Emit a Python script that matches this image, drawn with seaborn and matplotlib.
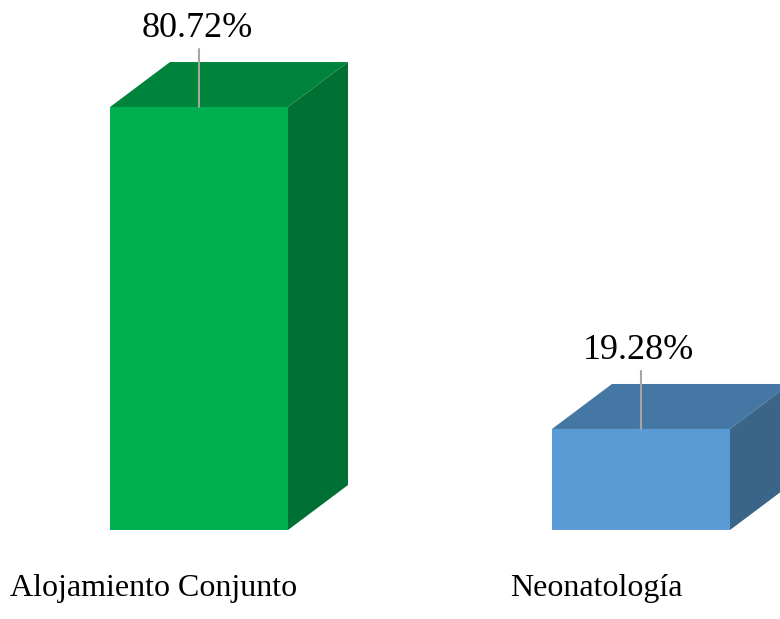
import matplotlib
matplotlib.use("Agg")
import matplotlib.pyplot as plt
from matplotlib.patches import Polygon
import seaborn as sns

categories = ["Alojamiento Conjunto", "Neonatología"]
values = [80.72, 19.28]
front_colors = ["#00B050", "#5B9BD5"]
top_colors = ["#00843C", "#4577A4"]
side_colors = ["#007033", "#3A6588"]

sns.set_theme(style="white")
plt.rcParams["font.family"] = ["Liberation Serif", "DejaVu Serif"]

W, H = 780, 619
fig = plt.figure(figsize=(W / 100, H / 100), dpi=100)
# axes: baseline 89 px above the bottom edge, value range 0-100
ax = fig.add_axes([0, 89 / H, 1, 524 / H])

sns.barplot(x=categories, y=values, hue=categories, palette=front_colors,
            width=0.4027, saturation=1, legend=False, ax=ax)

ax.set_xlim(-0.4502, 1.3145)
ax.set_ylim(0, 100)
ax.axis("off")

# depth of the 3D boxes in data units
px_x = 442.0              # pixels per category step
px_y = 524.0 / 100.0      # pixels per percentage point
dx = 60 / px_x
dy = 45 / px_y

for i, patch in enumerate(ax.patches[:len(values)]):
    x0 = patch.get_x()
    w = patch.get_width()
    h = patch.get_height()
    patch.set_edgecolor("none")
    top = Polygon([(x0, h), (x0 + dx, h + dy), (x0 + w + dx, h + dy), (x0 + w, h)],
                  closed=True, facecolor=top_colors[i], edgecolor="none", clip_on=True)
    side = Polygon([(x0 + w, 0), (x0 + w, h), (x0 + w + dx, h + dy), (x0 + w + dx, dy)],
                   closed=True, facecolor=side_colors[i], edgecolor="none", clip_on=True)
    ax.add_patch(top)
    ax.add_patch(side)

    cx = x0 + w / 2
    # leader line and value label
    ax.annotate("", xy=(cx, h), xytext=(0, 58), textcoords="offset pixels",
                arrowprops=dict(arrowstyle="-", color="#A6A6A6", lw=1.5,
                                shrinkA=0, shrinkB=0))
    ax.annotate(f"{values[i]:.2f}%", xy=(cx - 2 / px_x, h), xytext=(0, 70),
                textcoords="offset pixels", ha="center", va="baseline",
                fontsize=26, color="black")

    # category label under each box
    ax.text(cx - 45 / px_x, -66 / px_y, categories[i], ha="center", va="baseline",
            fontsize=23, color="black", clip_on=False)

fig.savefig("out.png", dpi=100, facecolor="white")
